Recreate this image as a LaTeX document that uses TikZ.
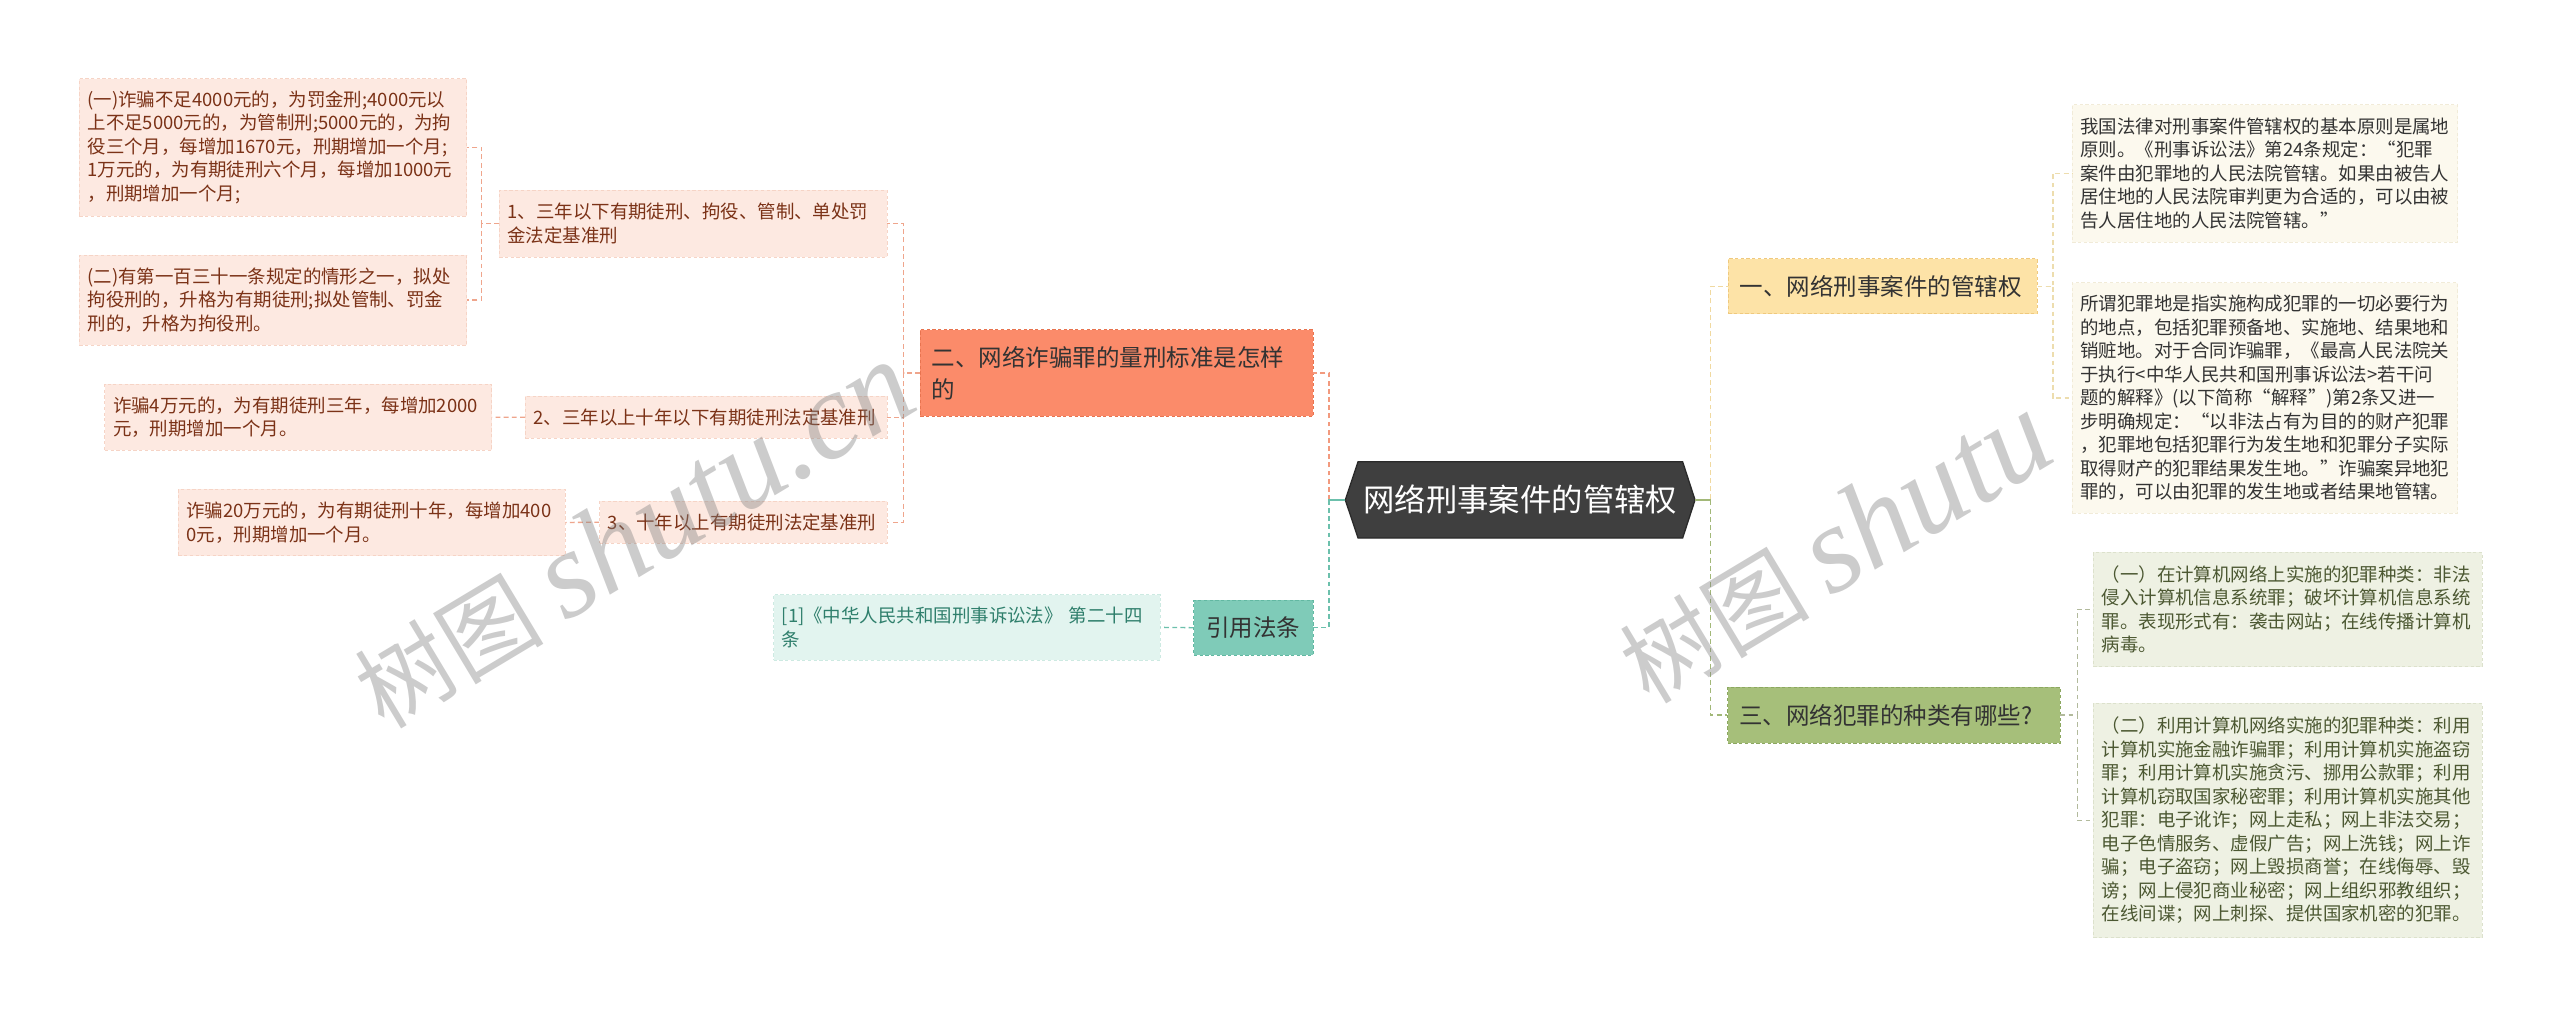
\documentclass[tikz,border=0pt]{standalone}
\usepackage{fontspec}
\setmainfont{Noto Sans CJK SC}
\newfontfamily\wmlatin{Liberation Serif}
\usetikzlibrary{calc,backgrounds}
\definecolor{rootF}{HTML}{3F3F3F}
\definecolor{rootD}{HTML}{2A2A2A}
\definecolor{yelF}{HTML}{FDE3A7}
\definecolor{yelD}{HTML}{EFC97E}
\definecolor{yelL}{HTML}{F0D9A0}
\definecolor{creamF}{HTML}{FCF9EE}
\definecolor{creamD}{HTML}{F1EBD8}
\definecolor{creamL}{HTML}{EDDDAE}
\definecolor{olvF}{HTML}{A6BF7A}
\definecolor{olvD}{HTML}{8CA860}
\definecolor{olvL}{HTML}{A2B878}
\definecolor{gryF}{HTML}{EEF1E3}
\definecolor{gryD}{HTML}{DCE1CC}
\definecolor{gryL}{HTML}{B2BA9C}
\definecolor{gryT}{HTML}{4C5832}
\definecolor{salF}{HTML}{FB8B6A}
\definecolor{salD}{HTML}{E87450}
\definecolor{salL}{HTML}{F29A7E}
\definecolor{pinkF}{HTML}{FDE9E1}
\definecolor{pinkD}{HTML}{F6D4C6}
\definecolor{pinkL}{HTML}{EFA58C}
\definecolor{pinkT}{HTML}{7B3217}
\definecolor{tealF}{HTML}{7FCBB8}
\definecolor{tealD}{HTML}{62B8A2}
\definecolor{tealL}{HTML}{6CC0AC}
\definecolor{refF}{HTML}{E2F4EF}
\definecolor{refD}{HTML}{CDEAE2}
\definecolor{refT}{HTML}{2F7F6C}
\definecolor{txtD}{HTML}{333333}
\tikzset{
  bx/.style={anchor=north west, inner xsep=5pt, inner ysep=0pt, align=left,
    dashed, dash pattern=on 2pt off 1.5pt, line width=0.5pt,
    font=\fontsize{11.3}{14.4}\selectfont},
  mainbx/.style={bx, inner xsep=7pt, text=txtD, font=\fontsize{14.4}{19.4}\selectfont},
  pinkbx/.style={bx, fill=pinkF, draw=pinkD, text=pinkT},
  creambx/.style={bx, fill=creamF, draw=creamD, text=txtD},
  grybx/.style={bx, fill=gryF, draw=gryD, text=gryT},
  refbx/.style={bx, fill=refF, draw=refD, text=refT},
  conn/.style={dashed, dash pattern=on 3pt off 2pt, line width=0.8pt},
  wm/.style={text=gray, text opacity=0.4, rotate=31, inner sep=0pt},
}
\begin{document}
\begin{tikzpicture}[x=1pt,y=-1pt]
\useasboundingbox (0,0) rectangle (1568,622);
\begin{scope}[on background layer]
  \fill[white] (0,0) rectangle (1568,622);
\end{scope}

% root
\node[text=white, inner sep=0pt, minimum width=198.4pt, minimum height=46.3pt,
  font=\fontsize{19.2}{22}\selectfont] (root) at (931.2,306.2) {网络刑事案件的管辖权};
\coordinate (rootL) at ($(root.west)+(-7.8,0)$);
\coordinate (rootR) at ($(root.east)+(7.6,0)$);
\begin{scope}[on background layer]
  \filldraw[fill=rootF, draw=rootD, line width=0.8pt]
    (root.north west) -- (root.north east) -- (rootR) -- (root.south east)
    -- (root.south west) -- (rootL) -- cycle;
\end{scope}

% level 1
\node[mainbx, fill=salF, draw=salD, minimum width=240.6pt, minimum height=53.2pt, text width=226.6pt]
  (n2) at (563.4,201.6) {二、网络诈骗罪的量刑标准是怎样\\的};
\node[mainbx, fill=tealF, draw=tealD, align=center, minimum width=73pt, minimum height=33.6pt, text width=59pt]
  (yy) at (731,367.4) {引用法条};
\node[mainbx, fill=yelF, draw=yelD, minimum width=189.2pt, minimum height=33.7pt, text width=175.2pt]
  (n1) at (1058.3,158.2) {一、网络刑事案件的管辖权};
\node[mainbx, fill=olvF, draw=olvD, minimum width=203.5pt, minimum height=34.3pt, text width=189.5pt]
  (n3) at (1058,420.5) {三、网络犯罪的种类有哪些?};

% left level 2
\node[pinkbx, minimum width=237.4pt, minimum height=40.9pt, text width=227.4pt]
  (l1) at (305.6,116.3) {1、三年以下有期徒刑、拘役、管制、单处罚\\金法定基准刑};
\node[pinkbx, minimum width=221.5pt, minimum height=25.5pt, text width=211.5pt]
  (l2) at (321.5,242.5) {2、三年以上十年以下有期徒刑法定基准刑};
\node[pinkbx, minimum width=176pt, minimum height=26pt, text width=166pt]
  (l3) at (367,306.6) {3、十年以上有期徒刑法定基准刑};

% left level 3
\node[pinkbx, minimum width=237.3pt, minimum height=84pt, text width=227.3pt]
  (la) at (48.4,48) {(一)诈骗不足4000元的，为罚金刑;4000元以\\上不足5000元的，为管制刑;5000元的，为拘\\役三个月，每增加1670元，刑期增加一个月;\\1万元的，为有期徒刑六个月，每增加1000元\\，刑期增加一个月;};
\node[pinkbx, minimum width=237.3pt, minimum height=55pt, text width=227.3pt]
  (lb) at (48.4,156) {(二)有第一百三十一条规定的情形之一，拟处\\拘役刑的，升格为有期徒刑;拟处管制、罚金\\刑的，升格为拘役刑。};
\node[pinkbx, minimum width=237pt, minimum height=40.6pt, text width=227pt]
  (l2a) at (64,235) {诈骗4万元的，为有期徒刑三年，每增加2000\\元，刑期增加一个月。};
\node[pinkbx, minimum width=237pt, minimum height=40.5pt, text width=227pt]
  (l3a) at (109,299.5) {诈骗20万元的，为有期徒刑十年，每增加400\\0元，刑期增加一个月。};
\node[refbx, minimum width=236.8pt, minimum height=40pt, text width=226.8pt]
  (ref) at (473.6,364) {[1]《中华人民共和国刑事诉讼法》 第二十四\\条};

% right level 2
\node[creambx, minimum width=236pt, minimum height=84pt, text width=226pt]
  (r1) at (1269,64) {我国法律对刑事案件管辖权的基本原则是属地\\原则。《刑事诉讼法》第24条规定：“犯罪\\案件由犯罪地的人民法院管辖。如果由被告人\\居住地的人民法院审判更为合适的，可以由被\\告人居住地的人民法院管辖。”};
\node[creambx, minimum width=236pt, minimum height=141pt, text width=226pt]
  (r2) at (1269,173) {所谓犯罪地是指实施构成犯罪的一切必要行为\\的地点，包括犯罪预备地、实施地、结果地和\\销赃地。对于合同诈骗罪，《最高人民法院关\\于执行<中华人民共和国刑事诉讼法>若干问\\题的解释》(以下简称“解释”)第2条又进一\\步明确规定：“以非法占有为目的的财产犯罪\\，犯罪地包括犯罪行为发生地和犯罪分子实际\\取得财产的犯罪结果发生地。”诈骗案异地犯\\罪的，可以由犯罪的发生地或者结果地管辖。};
\node[grybx, minimum width=238pt, minimum height=70pt, text width=228pt]
  (r3) at (1282,338) {（一）在计算机网络上实施的犯罪种类：非法\\侵入计算机信息系统罪；破坏计算机信息系统\\罪。表现形式有：袭击网站；在线传播计算机\\病毒。};
\node[grybx, minimum width=238pt, minimum height=143.5pt, text width=228pt]
  (r4) at (1282,430.5) {（二）利用计算机网络实施的犯罪种类：利用\\计算机实施金融诈骗罪；利用计算机实施盗窃\\罪；利用计算机实施贪污、挪用公款罪；利用\\计算机窃取国家秘密罪；利用计算机实施其他\\犯罪：电子讹诈；网上走私；网上非法交易；\\电子色情服务、虚假广告；网上洗钱；网上诈\\骗；电子盗窃；网上毁损商誉；在线侮辱、毁\\谤；网上侵犯商业秘密；网上组织邪教组织；\\在线间谍；网上刺探、提供国家机密的犯罪。};

% connectors
\draw[conn, salL] (rootL) -- ++(-10,0) |- (n2.east);
\draw[conn, tealL] (rootL) -- ++(-10,0) |- (yy.east);
\draw[tealL, line width=0.8pt] (rootL) -- ++(-10,0);
\draw[conn, yelL] (rootR) -- ++(9.6,0) |- (n1.west);
\draw[conn, olvL] (rootR) -- ++(9.6,0) |- (n3.west);
\draw[olvL, line width=0.8pt] (rootR) -- ++(9.6,0);

\draw[conn, pinkL] (n2.west) -- ++(-10,0) |- (l1.east);
\draw[conn, pinkL] (n2.west) -- ++(-10,0) |- (l2.east);
\draw[conn, pinkL] (n2.west) -- ++(-10,0) |- (l3.east);
\draw[conn, pinkL] (l1.west) -- ++(-10.6,0) |- (la.east);
\draw[conn, pinkL] (l1.west) -- ++(-10.6,0) |- (lb.east);
\draw[conn, pinkL] (l2.west) -- (l2a.east);
\draw[conn, pinkL] (l3.west) -- (l3a.east);
\draw[conn, tealL] (yy.west) -- (ref.east);

\draw[conn, creamL] (n1.east) -- ++(9.5,0) |- (r1.west);
\draw[conn, creamL] (n1.east) -- ++(9.5,0) |- (r2.west);
\draw[conn, gryL] (n3.east) -- ++(10.5,0) |- (r3.west);
\draw[conn, gryL] (n3.east) -- ++(10.5,0) |- (r4.west);

% watermarks
\node[wm] (wm1) at (388,328) {\fontsize{58}{60}\selectfont 树图 \fontsize{76}{80}\selectfont\wmlatin\itshape shutu.cn};
\node[wm] (wm2) at (1124,336) {\fontsize{58}{60}\selectfont 树图 \fontsize{76}{80}\selectfont\wmlatin\itshape shutu};
\end{tikzpicture}
\end{document}
